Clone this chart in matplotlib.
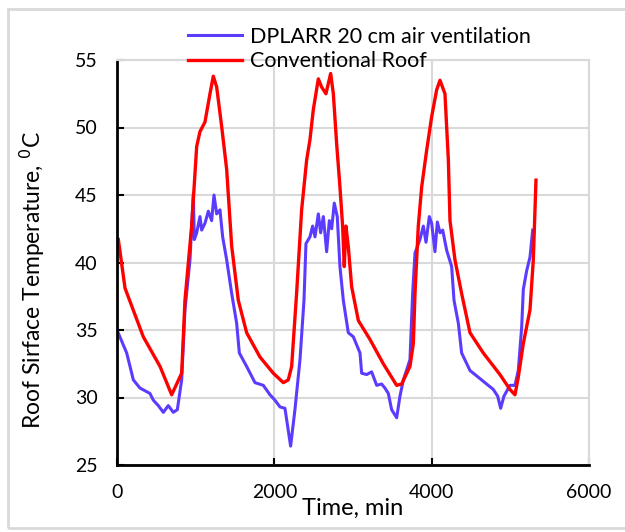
import matplotlib
matplotlib.use('Agg')
import matplotlib.pyplot as plt
from matplotlib.patches import Rectangle

plt.rcParams['font.family'] = ['Lato', 'DejaVu Sans']

# 数据：时间(min)与温度(°C)
t_conv = [17, 102, 334, 547, 695, 822, 864, 949, 1013, 1055, 1118, 1182, 1224, 1267, 1330,
          1394, 1458, 1542, 1648, 1817, 1987, 2114, 2177, 2220, 2283, 2347, 2411, 2453, 2495,
          2559, 2601, 2656, 2716, 2750, 2792, 2834, 2868, 2889, 2910, 2940, 2983, 3068, 3216,
          3385, 3555, 3619, 3724, 3767, 3788, 3830, 3873, 3936, 4000, 4064, 4106, 4169, 4212,
          4233, 4296, 4381, 4487, 4656, 4868, 4995, 5059, 5101, 5165, 5250, 5292, 5326]
T_conv = [41.7, 38.1, 34.5, 32.3, 30.2, 31.8, 37.2, 42.7, 48.6, 49.7, 50.4, 52.5, 53.8, 53.0, 50.1,
          46.9, 41.2, 37.2, 34.8, 33.0, 31.8, 31.1, 31.3, 32.3, 37.7, 43.9, 47.6, 49.1, 51.3,
          53.6, 53.0, 52.5, 54.0, 52.5, 48.8, 45.6, 42.7, 39.7, 42.7, 41.2, 38.2, 35.7, 34.3,
          32.5, 30.9, 31.0, 32.3, 34.0, 37.7, 42.7, 45.6, 48.3, 50.8, 52.8, 53.5, 52.5, 47.6,
          43.1, 40.2, 37.7, 34.8, 33.3, 31.7, 30.6, 30.2, 31.5, 34.0, 36.5, 40.2, 46.1]

t_dplarr = [0, 123, 208, 292, 419, 462, 525, 589, 652, 716, 767, 822, 864, 928, 970, 983, 1013,
            1055, 1076, 1118, 1161, 1203, 1233, 1267, 1309, 1343, 1394, 1458, 1521, 1555, 1648,
            1754, 1860, 1945, 2008, 2072, 2135, 2207, 2262, 2326, 2377, 2402, 2453, 2487, 2517,
            2559, 2589, 2623, 2665, 2699, 2729, 2762, 2800, 2834, 2877, 2940, 3004, 3089, 3110,
            3174, 3237, 3301, 3364, 3406, 3449, 3491, 3555, 3597, 3640, 3724, 3758, 3788, 3851,
            3894, 3928, 3970, 4000, 4042, 4072, 4106, 4140, 4191, 4254, 4284, 4339, 4381, 4487,
            4656, 4783, 4839, 4877, 4919, 4995, 5059, 5101, 5144, 5165, 5208, 5250, 5284]
T_dplarr = [35.0, 33.3, 31.3, 30.7, 30.3, 29.8, 29.4, 28.9, 29.4, 28.9, 29.1, 31.3, 36.5, 40.2, 45.1,
            41.7, 42.2, 43.4, 42.4, 42.9, 43.8, 43.1, 45.0, 43.6, 43.9, 41.9, 40.2, 37.7, 35.5,
            33.3, 32.3, 31.1, 30.9, 30.2, 29.8, 29.3, 29.2, 26.4, 29.1, 32.8, 37.2, 41.4, 41.9,
            42.7, 41.9, 43.6, 42.2, 43.4, 40.8, 43.1, 42.5, 44.4, 43.4, 39.7, 37.2, 34.8, 34.5,
            33.3, 31.8, 31.7, 31.9, 30.9, 31.0, 30.7, 30.3, 29.1, 28.5, 30.1, 31.3, 32.8, 37.7,
            40.7, 41.7, 42.7, 41.5, 43.4, 42.9, 40.8, 43.0, 42.2, 42.4, 40.9, 39.7, 37.2, 35.5,
            33.3, 32.0, 31.2, 30.6, 30.1, 29.2, 30.1, 30.9, 30.9, 32.0, 35.2, 38.0, 39.4, 40.4, 42.4]

xticks = [0, 2000, 4000, 6000]
yticks = [25, 30, 35, 40, 45, 50, 55]

fig = plt.figure(figsize=(6.25, 5.32), dpi=100)
ax = fig.add_axes([117 / 625, 67 / 532, 472 / 625, 405 / 532])

# 外框
fig.patches.append(Rectangle((8 / 625, 4 / 532), 0.99, 519 / 532, transform=fig.transFigure,
                             fill=False, edgecolor='#d9d9d9', linewidth=2))

l1, = ax.plot(t_dplarr, T_dplarr, color='#5B3CFF', linewidth=2.2, label='DPLARR 20 cm air ventilation')
l2, = ax.plot(t_conv, T_conv, color='#FF0000', linewidth=2.4, label='Conventional Roof')

ax.set_xlim(0, 6000)
ax.set_ylim(25, 55)
ax.set_xticks(xticks)
ax.set_yticks(yticks)
ax.grid(True, color='#d9d9d9', linewidth=1.5)
ax.set_axisbelow(True)
for s in ['top', 'right']:
    ax.spines[s].set_color('#d9d9d9')
    ax.spines[s].set_linewidth(1.5)
for s in ['left', 'bottom']:
    ax.spines[s].set_color('black')
    ax.spines[s].set_linewidth(2)
ax.tick_params(direction='in', length=5, width=1.5, labelsize=14, pad=14)

ax.set_xlabel('Time, min', fontsize=17, va='top')
ax.xaxis.set_label_coords(0.5, -0.08)
ax.set_ylabel('Roof Sirface Temperature, $^{0}$C', fontsize=16.5)
ax.yaxis.set_label_coords(-0.148, 0.457)

fig.legend(handles=[l1, l2], loc='upper left', bbox_to_anchor=(188 / 625, 1 - 27 / 532),
           frameon=False, fontsize=15.5, handlelength=2.5, handletextpad=0.4,
           labelspacing=0.2, borderpad=0, borderaxespad=0)

fig.savefig('out.png', dpi=100)
